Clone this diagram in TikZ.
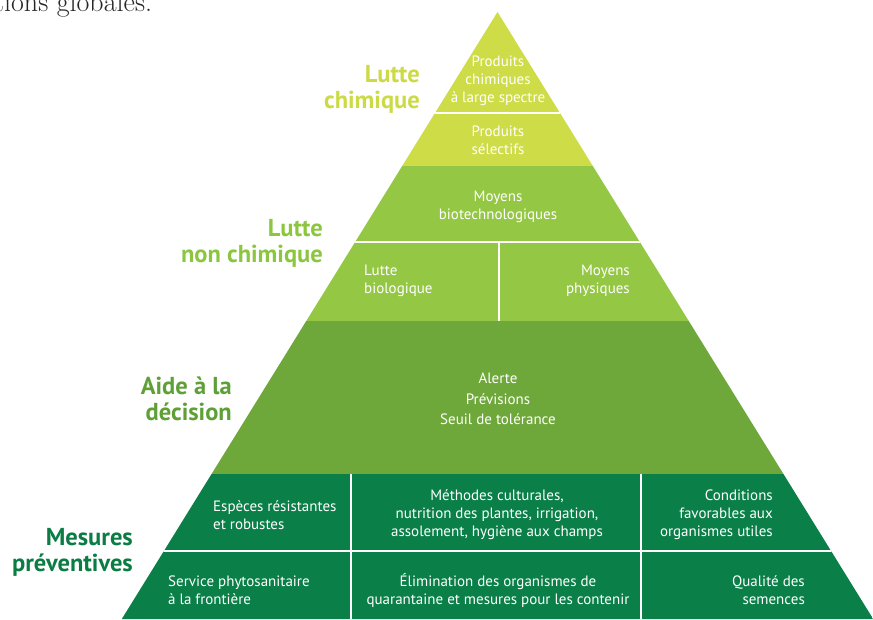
\documentclass[tikz,border=0pt]{standalone}
\usepackage{fontspec}
\setsansfont{PT Sans}
\definecolor{c1}{HTML}{CEDC48}
\definecolor{c2}{HTML}{94C744}
\definecolor{c3}{HTML}{6FA83A}
\definecolor{c4}{HTML}{0A8048}
\definecolor{l1}{HTML}{CBDA45}
\definecolor{l2}{HTML}{8CC63F}
\definecolor{l3}{HTML}{5E9F36}
\definecolor{l4}{HTML}{0B7D44}
\begin{document}
\begin{tikzpicture}[x=1pt,y=-1pt,
  cell/.style={text=white,font=\sffamily\fontsize{15}{18}\selectfont,align=center,inner sep=0pt},
  lab/.style={font=\sffamily\bfseries\fontsize{24.5}{26}\selectfont,align=right,inner sep=0pt,anchor=east},
  sep/.style={white,line width=2pt}]
\useasboundingbox (0,0) rectangle (873,619);
\node[anchor=base west,inner sep=0pt,font=\rmfamily\fontsize{28}{30}\selectfont,text=black!85] (intro) at (-6,11) {tions globales.};
\coordinate (apex) at (497.5,12);
\coordinate (bl) at (121.8,619);
\coordinate (br) at (873.2,619);
\begin{scope}
\clip (apex) -- (bl) -- (br) -- cycle;
\fill[c1] (0,0) rectangle (873,166);
\fill[c2] (0,166) rectangle (873,321);
\fill[c3] (0,321) rectangle (873,474);
\fill[c4] (0,474) rectangle (873,620);
\draw[sep] (0,113) -- (873,113);
\draw[sep] (0,242) -- (873,242);
\draw[sep] (0,551) -- (873,551);
\draw[sep] (499,242) -- (499,321);
\draw[sep] (351,474) -- (351,620);
\draw[sep] (641,474) -- (641,620);
\end{scope}
% cells
\node[cell] (t1) at (498,80.5) {Produits\\chimiques\\à large spectre};
\node[cell] (t2) at (498,140) {Produits\\sélectifs};
\node[cell] (t3) at (498,206.5) {Moyens\\biotechnologiques};
\node[cell,align=left,anchor=west] (t4) at (364,280.5) {Lutte\\biologique};
\node[cell,align=right,anchor=east] (t5) at (630,280.5) {Moyens\\physiques};
\node[cell,font=\sffamily\fontsize{15}{20.5}\selectfont] (t6) at (498,399) {Alerte\\Prévisions\\Seuil de tolérance};
\node[cell,align=left,anchor=west] (t7) at (213,515) {Espèces résistantes\\et robustes};
\node[cell] (t8) at (497,515) {Méthodes culturales,\\nutrition des plantes, irrigation,\\assolement, hygiène aux champs};
\node[cell,align=right,anchor=east] (t9) at (773,515) {Conditions\\favorables aux\\organismes utiles};
\node[cell,align=left,anchor=west] (t10) at (168,590) {Service phytosanitaire\\à la frontière};
\node[cell] (t11) at (498,590) {Élimination des organismes de\\quarantaine et mesures pour les contenir};
\node[cell,align=right,anchor=east] (t12) at (805,590) {Qualité des\\semences};
% labels
\node[lab,text=l1] (L1) at (420,89) {Lutte\\chimique};
\node[lab,text=l2] (L2) at (323,243.5) {Lutte\\non chimique};
\node[lab,text=l3] (L3) at (232,398.5) {Aide à la\\décision};
\node[lab,text=l4] (L4) at (133,552.5) {Mesures\\préventives};
\end{tikzpicture}
\end{document}
